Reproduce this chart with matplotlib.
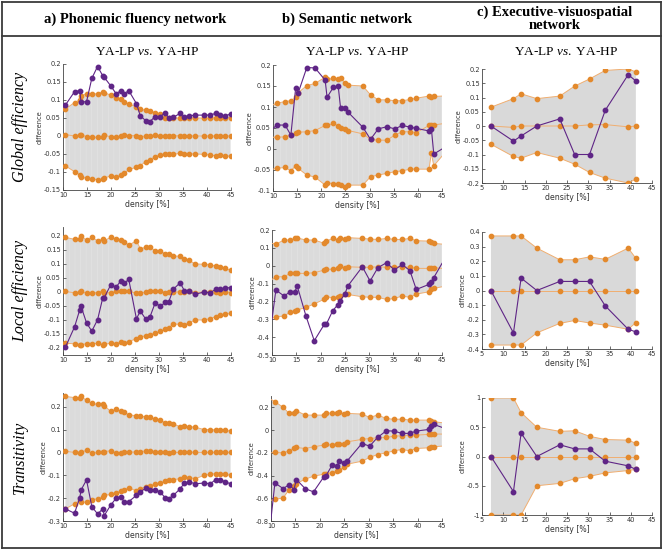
import matplotlib.pyplot as plt
from matplotlib.ticker import FuncFormatter, MultipleLocator
from matplotlib.lines import Line2D

plt.rcParams['mathtext.fontset'] = 'custom'
plt.rcParams['mathtext.it'] = 'Liberation Serif:italic'
plt.rcParams['mathtext.rm'] = 'Liberation Serif'
plt.rcParams['hatch.linewidth'] = 0.35

W, H = 666, 551

cols = ['a) Phonemic fluency network', 'b) Semantic network',
        'c) Executive-visuospatial\nnetwork']
rows = ['Global efficiency', 'Local efficiency', 'Transitivity']

# density thresholds per network
dens_a = [10.5, 12.4, 13.5, 13.75, 14.9, 16.0, 17.2, 18.3, 18.6, 19.9, 21.1, 22.0, 22.8,
          23.7, 25.3, 26.1, 27.2, 28.1, 29.2, 30.3, 31.3, 32.0, 33.0, 34.4, 35.3, 36.2,
          37.6, 39.4, 40.7, 41.8, 42.8, 43.8, 44.9]
# middle network: first and last values are the axis ends (no marker)
dens_b = [10.0, 10.8, 12.5, 13.7, 14.7, 15.2, 17.0, 18.7, 20.8, 21.2, 22.5, 23.5, 24.0,
          25.0, 25.6, 28.6, 30.2, 31.8, 33.6, 35.2, 36.8, 38.4, 39.7, 42.3, 42.8, 43.3, 45.0]
dens_c = [7.1, 12.4, 14.2, 17.9, 23.3, 26.8, 30.3, 34.0, 39.4, 41.2]

# a) global efficiency
ge_a_up = [0.075, 0.093, 0.1, 0.111, 0.118, 0.117, 0.117, 0.123, 0.12, 0.114, 0.105, 0.102,
           0.095, 0.089, 0.081, 0.074, 0.072, 0.07, 0.065, 0.061, 0.05, 0.05, 0.05, 0.05,
           0.05, 0.05, 0.05, 0.05, 0.05, 0.051, 0.05, 0.051, 0.05]
ge_a_mean = [0.004, 0.0, 0.002, 0.004, -0.002, -0.003, -0.004, -0.002, 0.002, -0.002, -0.003,
             -0.001, 0.003, 0.001, 0.001, -0.002, 0.0, 0.001, 0.002, 0.001, 0.0, -0.001, 0.0,
             0.001, -0.001, 0.0, 0.0, 0.0, 0.0, 0.0, 0.001, 0.0, 0.0]
ge_a_low = [-0.083, -0.099, -0.108, -0.113, -0.118, -0.12, -0.121, -0.12, -0.117, -0.111,
            -0.115, -0.108, -0.104, -0.093, -0.087, -0.083, -0.071, -0.067, -0.057, -0.053,
            -0.051, -0.051, -0.051, -0.048, -0.05, -0.05, -0.05, -0.051, -0.053, -0.055,
            -0.053, -0.056, -0.056]
ge_a_diff = [0.086, 0.123, 0.126, 0.095, 0.095, 0.16, 0.193, 0.167, 0.163, 0.14, 0.117, 0.126,
             0.118, 0.126, 0.09, 0.056, 0.043, 0.04, 0.054, 0.054, 0.065, 0.051, 0.052, 0.063,
             0.054, 0.056, 0.058, 0.058, 0.058, 0.063, 0.058, 0.056, 0.061]

# a) local efficiency
le_a_up = [0.195, 0.188, 0.19, 0.2, 0.185, 0.195, 0.183, 0.188, 0.183, 0.195, 0.189, 0.185,
           0.18, 0.167, 0.183, 0.155, 0.159, 0.161, 0.147, 0.147, 0.135, 0.137, 0.128, 0.128,
           0.116, 0.113, 0.1, 0.099, 0.098, 0.092, 0.09, 0.084, 0.078]
le_a_mean = [0.002, -0.003, 0.0, 0.003, -0.005, -0.002, -0.003, 0.005, -0.003, -0.003, 0.002,
             0.003, 0.004, 0.003, -0.005, -0.005, 0.0, 0.003, 0.004, 0.004, -0.002, 0.001, 0.0,
             0.0, 0.0, 0.002, -0.002, 0.0, 0.0, 0.0, -0.002, 0.0, -0.002]
le_a_low = [-0.183, -0.185, -0.188, -0.188, -0.185, -0.186, -0.183, -0.19, -0.187, -0.183,
            -0.185, -0.178, -0.183, -0.177, -0.167, -0.16, -0.157, -0.152, -0.148, -0.14,
            -0.133, -0.128, -0.115, -0.115, -0.118, -0.11, -0.1, -0.1, -0.095, -0.088,
            -0.082, -0.08, -0.076]
le_a_diff = [-0.197, -0.125, -0.063, -0.051, -0.11, -0.14, -0.099, -0.02, -0.02, 0.024, 0.018,
             0.039, 0.032, 0.045, -0.096, -0.068, -0.096, -0.09, -0.039, -0.051, -0.037,
             -0.036, 0.01, 0.033, 0.004, 0.002, -0.008, 0.0, -0.003, 0.01, 0.01, 0.015, 0.015]

# a) transitivity
tr_a_up = [0.245, 0.24, 0.24, 0.245, 0.228, 0.215, 0.21, 0.21, 0.205, 0.18, 0.19, 0.18, 0.175,
           0.165, 0.16, 0.158, 0.157, 0.155, 0.145, 0.14, 0.13, 0.13, 0.125, 0.112, 0.115,
           0.113, 0.11, 0.1, 0.1, 0.098, 0.1, 0.096, 0.094]
tr_a_mean = [0.005, 0.0, -0.002, 0.0, 0.01, -0.003, 0.0, 0.002, 0.004, 0.007, -0.003, -0.002,
             0.003, 0.001, 0.002, 0.004, 0.006, 0.005, 0.002, 0.002, 0.0, -0.002, 0.0, 0.0,
             0.0, 0.001, 0.0, 0.0, 0.0, 0.0, 0.0, 0.0, 0.0]
tr_a_low = [-0.247, -0.225, -0.21, -0.218, -0.218, -0.207, -0.203, -0.196, -0.188, -0.184,
            -0.178, -0.169, -0.163, -0.154, -0.169, -0.159, -0.151, -0.148, -0.137, -0.134,
            -0.126, -0.122, -0.119, -0.115, -0.107, -0.11, -0.115, -0.1, -0.096, -0.093,
            -0.096, -0.096, -0.1]
tr_a_diff = [-0.247, -0.266, -0.198, -0.165, -0.12, -0.237, -0.269, -0.247, -0.276, -0.232,
             -0.199, -0.193, -0.218, -0.215, -0.188, -0.174, -0.156, -0.163, -0.163, -0.174,
             -0.199, -0.203, -0.188, -0.159, -0.134, -0.129, -0.137, -0.134, -0.137, -0.119,
             -0.119, -0.129, -0.137]

# b) global efficiency
ge_b_up = [0.105, 0.109, 0.113, 0.115, 0.123, 0.134, 0.151, 0.156, 0.171, 0.166, 0.168, 0.167,
           0.168, 0.158, 0.152, 0.15, 0.129, 0.117, 0.117, 0.115, 0.115, 0.118, 0.121, 0.126,
           0.123, 0.125, 0.126]
ge_b_mean = [0.028, 0.028, 0.029, 0.033, 0.037, 0.04, 0.041, 0.044, 0.056, 0.056, 0.061, 0.055,
             0.051, 0.047, 0.044, 0.036, 0.023, 0.021, 0.021, 0.033, 0.041, 0.041, 0.039,
             0.056, 0.057, 0.057, 0.06]
ge_b_low = [-0.048, -0.046, -0.044, -0.052, -0.04, -0.046, -0.062, -0.067, -0.086, -0.08,
            -0.083, -0.083, -0.086, -0.09, -0.086, -0.086, -0.066, -0.062, -0.058, -0.054,
            -0.052, -0.048, -0.048, -0.048, -0.01, -0.04, -0.017]
ge_b_diff = [0.049, 0.057, 0.057, 0.033, 0.146, 0.133, 0.194, 0.193, 0.164, 0.123, 0.147, 0.15,
             0.097, 0.097, 0.087, 0.052, 0.023, 0.048, 0.053, 0.048, 0.056, 0.052, 0.049,
             0.043, 0.048, -0.012, 0.0]

# b) local efficiency
le_b_up = [0.125, 0.121, 0.144, 0.144, 0.153, 0.155, 0.144, 0.144, 0.125, 0.138, 0.153, 0.144,
           0.153, 0.147, 0.157, 0.153, 0.149, 0.147, 0.153, 0.147, 0.147, 0.153, 0.14, 0.138,
           0.133, 0.125, 0.121]
le_b_mean = [-0.077, -0.062, -0.062, -0.043, -0.039, -0.043, -0.043, -0.039, -0.024, -0.021,
             -0.019, -0.015, 0.0, -0.015, -0.006, -0.009, -0.009, -0.006, -0.009, -0.006,
             -0.006, -0.009, -0.015, -0.015, -0.011, -0.011, -0.015]
le_b_low = [-0.295, -0.286, -0.282, -0.261, -0.252, -0.248, -0.233, -0.214, -0.187, -0.174,
            -0.179, -0.174, -0.168, -0.161, -0.161, -0.174, -0.177, -0.177, -0.189, -0.183,
            -0.17, -0.177, -0.159, -0.146, -0.131, -0.127, -0.118]
le_b_diff = [-0.3, -0.136, -0.17, -0.146, -0.146, -0.114, -0.282, -0.42, -0.327, -0.327, -0.252,
             -0.22, -0.198, -0.159, -0.114, -0.006, -0.086, -0.011, 0.017, -0.024, 0.007,
             -0.028, -0.133, -0.105, -0.093, -0.067, 0.013]

# b) transitivity
tr_b_up = [0.27, 0.25, 0.2, 0.147, 0.147, 0.17, 0.132, 0.132, 0.132, 0.153, 0.147, 0.147, 0.156,
           0.141, 0.147, 0.141, 0.112, 0.132, 0.103, 0.094, 0.097, 0.088, 0.088, 0.088, 0.082,
           0.074, 0.065]
tr_b_mean = [-0.2, -0.197, -0.2, -0.182, -0.156, -0.153, -0.162, -0.147, -0.132, -0.126, -0.132,
             -0.118, -0.118, -0.118, -0.103, -0.082, -0.074, -0.068, -0.065, -0.053, -0.05,
             -0.044, -0.044, -0.038, -0.035, -0.035, -0.035]
tr_b_low = [-0.618, -0.609, -0.597, -0.524, -0.494, -0.47, -0.432, -0.406, -0.388, -0.382,
            -0.376, -0.359, -0.353, -0.324, -0.3, -0.274, -0.241, -0.215, -0.2, -0.182, -0.171,
            -0.182, -0.162, -0.156, -0.147, -0.147, -0.141]
tr_b_diff = [-0.78, -0.465, -0.515, -0.48, -0.524, -0.435, -0.515, -0.544, -0.412, -0.406,
             -0.309, -0.318, -0.274, -0.288, -0.271, -0.118, -0.141, -0.065, -0.006, -0.009,
             -0.029, -0.029, -0.009, 0.006, 0.038, 0.05, 0.024]

# c) global efficiency
ge_c_up = [0.066, 0.096, 0.113, 0.096, 0.105, 0.14, 0.165, 0.195, 0.2, 0.19]
ge_c_mean = [0.0, -0.005, 0.0, 0.0, 0.0, 0.0, 0.004, 0.005, -0.003, 0.0]
ge_c_low = [-0.064, -0.107, -0.113, -0.093, -0.113, -0.134, -0.163, -0.183, -0.2, -0.186]
ge_c_diff = [0.0, -0.053, -0.035, 0.0, 0.025, -0.1, -0.1, 0.055, 0.18, 0.158]

# c) local efficiency
le_c_up = [0.373, 0.373, 0.373, 0.29, 0.21, 0.21, 0.23, 0.213, 0.29, 0.22]
le_c_mean = [0.0, 0.0, 0.0, 0.0, 0.0, 0.0, 0.0, 0.0, 0.0, 0.0]
le_c_low = [-0.373, -0.373, -0.373, -0.29, -0.225, -0.205, -0.222, -0.237, -0.265, -0.22]
le_c_diff = [0.0, -0.29, 0.085, 0.0, 0.062, 0.062, 0.062, -0.105, -0.265, -0.283]

# c) transitivity
tr_c_up = [1.0, 1.0, 0.75, 0.5, 0.43, 0.44, 0.345, 0.29, 0.28, 0.225]
tr_c_mean = [0.0, 0.0, 0.0, 0.0, 0.0, 0.0, 0.0, 0.0, 0.0, 0.0]
tr_c_low = [-1.0, -1.0, -1.0, -0.5, -0.46, -0.38, -0.34, -0.28, -0.24, -0.22]
tr_c_diff = [0.0, -0.6, 0.4, 0.0, 0.2, 0.13, 0.13, -0.08, -0.16, -0.22]

ORANGE = '#e3892c'
ORANGE_LINE = '#f0ae70'
PURPLE = '#5f2586'


def px(x0, y0, x1, y1):
    return [x0 / W, 1 - y1 / H, (x1 - x0) / W, (y1 - y0) / H]


def panel(rect, x, up, mean, low, diff, ylim, ystep, xlim, stripes, mk):
    ax = fig.add_axes(px(*rect))
    if stripes:
        ax.fill_between(x, low, up, facecolor='#dbdbdb', edgecolor='#e6e6e6',
                        hatch='|||', linewidth=0)
    else:
        ax.fill_between(x, low, up, facecolor='#d9d9d9', linewidth=0)
    for s in (up, mean, low):
        ax.plot(x, s, color=ORANGE_LINE, lw=0.7, marker='o', ms=3.1, mfc=ORANGE,
                mec=ORANGE, markevery=mk, zorder=3)
    ax.plot(x, diff, color=PURPLE, lw=0.8, marker='o', ms=3.2, mfc=PURPLE,
            mec=PURPLE, markevery=mk, zorder=4)
    ax.set_xlim(*xlim)
    ax.set_ylim(*ylim)
    ax.xaxis.set_major_locator(MultipleLocator(5))
    ax.yaxis.set_major_locator(MultipleLocator(ystep))
    ax.yaxis.set_major_formatter(FuncFormatter(lambda v, _: '%g' % round(v, 4)))
    for s in ('top', 'right'):
        ax.spines[s].set_visible(False)
    for s in ('left', 'bottom'):
        ax.spines[s].set_color('#444444')
        ax.spines[s].set_linewidth(0.6)
    ax.tick_params(direction='in', length=2, width=0.5, labelsize=4.8, pad=1.5,
                   colors='#333333')
    ax.set_xlabel('density [%]', fontsize=5.6, labelpad=1.5, color='#333333')
    ax.set_ylabel('difference', fontsize=4.8, labelpad=1, color='#333333')
    ax.patch.set_visible(False)
    return ax


fig = plt.figure(figsize=(W / 100, H / 100), dpi=100)

mid = slice(1, -1)
panel((63, 64, 231, 190), dens_a, ge_a_up, ge_a_mean, ge_a_low, ge_a_diff,
      (-0.15, 0.2), 0.05, (10, 45), True, None)
panel((273, 65, 442, 191), dens_b, ge_b_up, ge_b_mean, ge_b_low, ge_b_diff,
      (-0.1, 0.2), 0.05, (10, 45), True, mid)
panel((482, 69, 652, 183), dens_c, ge_c_up, ge_c_mean, ge_c_low, ge_c_diff,
      (-0.2, 0.2), 0.05, (5, 45), False, None)

panel((63, 227, 231, 355), dens_a, le_a_up, le_a_mean, le_a_low, le_a_diff,
      (-0.225, 0.232), 0.05, (10, 45), True, None)
panel((272, 230, 442, 355), dens_b, le_b_up, le_b_mean, le_b_low, le_b_diff,
      (-0.5, 0.2), 0.1, (10, 45), True, mid)
panel((482, 232, 652, 349), dens_c, le_c_up, le_c_mean, le_c_low, le_c_diff,
      (-0.4, 0.4), 0.1, (5, 45), False, None)

panel((63, 393, 231, 521), dens_a, tr_a_up, tr_a_mean, tr_a_low, tr_a_diff,
      (-0.3, 0.26), 0.1, (10, 45), True, None)
panel((271, 396, 442, 521), dens_b, tr_b_up, tr_b_mean, tr_b_low, tr_b_diff,
      (-0.8, 0.3), 0.2, (10, 45), True, mid)
panel((482, 398, 652, 515), dens_c, tr_c_up, tr_c_mean, tr_c_low, tr_c_diff,
      (-1, 1), 0.5, (5, 45), False, None)

# frame and header separator
frame = dict(color='#3a3a3a', lw=1.3, transform=fig.transFigure)
for (x0, y0, x1, y1) in [(2, 2, 661, 2), (2, 548, 661, 548), (2, 2, 2, 548),
                         (661, 2, 661, 548), (2, 36, 661, 36)]:
    fig.add_artist(Line2D([x0 / W, x1 / W], [1 - y0 / H, 1 - y1 / H], **frame))

serif = 'Liberation Serif'
head_x = [135, 347, 555]
sub_x = [147, 357, 566]
for i, t in enumerate(cols):
    fig.text(head_x[i] / W, 1 - 19 / H, t, ha='center', va='center', fontsize=10.5,
             fontweight='bold', family=serif, linespacing=1.05)
    fig.text(sub_x[i] / W, 1 - 52 / H, r'YA-LP $\mathit{vs.}$ YA-HP', ha='center',
             va='center', fontsize=9.5, family=serif)

row_y = [127, 291, 457]
for i, t in enumerate(rows):
    fig.text(20 / W, 1 - row_y[i] / H, t, ha='center', va='center', rotation=90,
             fontsize=11.5, style='italic', family=serif)

fig.savefig('out.png', dpi=100)
